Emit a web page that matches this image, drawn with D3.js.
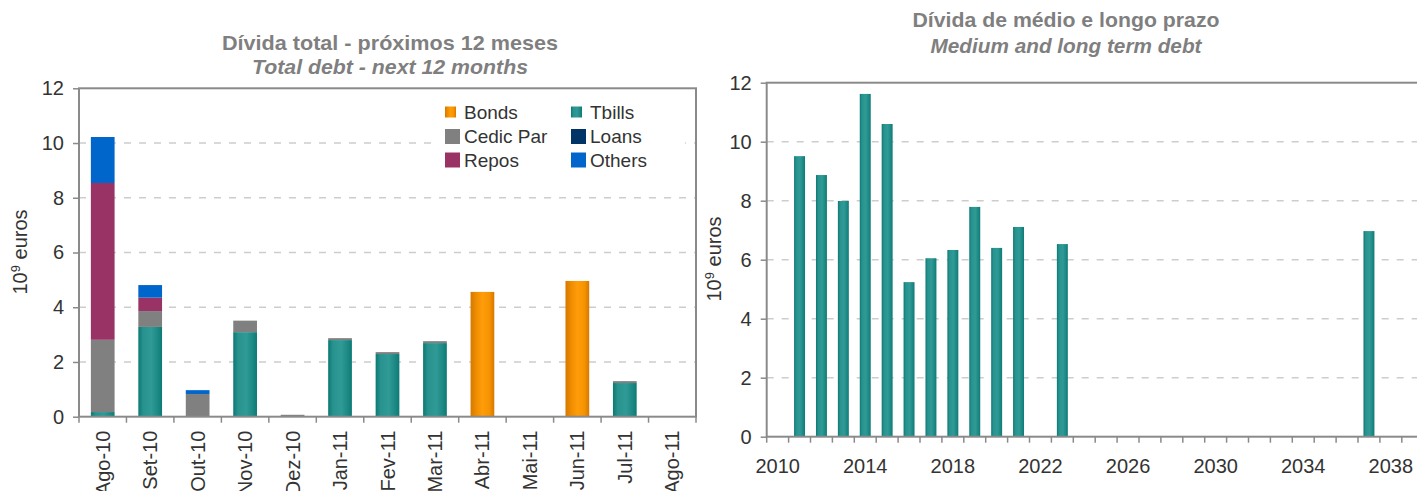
<!DOCTYPE html>
<html>
<head>
<meta charset="utf-8">
<script src="https://cdn.jsdelivr.net/npm/d3@7"></script>
<style>
  body { margin: 0; background: #fff; }
  svg { display: block; font-family: 'Liberation Sans', Arial, sans-serif; }
</style>
</head>
<body>
<div id="mount"></div>
<script>
'use strict';

// left chart: total debt falling due in the next 12 months (10^9 euros)
const months = ['Ago-10', 'Set-10', 'Out-10', 'Nov-10', 'Dez-10', 'Jan-11', 'Fev-11',
                'Mar-11', 'Abr-11', 'Mai-11', 'Jun-11', 'Jul-11', 'Ago-11'];
const bonds    = [0,    0,    0,    0,    0,    0,    0,    0,    4.56, 0, 4.96, 0,    0];
const tbills   = [0.17, 3.28, 0,    3.09, 0,    2.80, 2.29, 2.69, 0,    0, 0,    1.23, 0];
const cedicPar = [2.64, 0.58, 0.83, 0.42, 0.07, 0.07, 0.07, 0.07, 0,    0, 0,    0.07, 0];
const loans    = [0,    0,    0,    0,    0,    0,    0,    0,    0,    0, 0,    0,    0];
const repos    = [5.73, 0.49, 0,    0,    0,    0,    0,    0,    0,    0, 0,    0,    0];
const others   = [1.68, 0.46, 0.14, 0,    0,    0,    0,    0,    0,    0, 0,    0,    0];
const seriesNames = ['Bonds', 'Tbills', 'Cedic Par', 'Loans', 'Repos', 'Others'];

// right chart: medium and long term debt by year of maturity (10^9 euros)
const years = [2010, 2011, 2012, 2013, 2014, 2015, 2016, 2017, 2018, 2019,
               2020, 2021, 2022, 2023, 2024, 2025, 2026, 2027, 2028, 2029,
               2030, 2031, 2032, 2033, 2034, 2035, 2036, 2037, 2038, 2039];
const mltDebt = [0, 9.51, 8.87, 7.99, 11.62, 10.60, 5.24, 6.05, 6.33, 7.79,
                 6.40, 7.11, 0, 6.53, 0, 0, 0, 0, 0, 0,
                 0, 0, 0, 0, 0, 0, 0, 6.97, 0, 0];
const yearLabels = [2010, 2014, 2018, 2022, 2026, 2030, 2034, 2038];

const yTicks = [0, 2, 4, 6, 8, 10, 12];

const axisColor = '#8a8a8a',
      gridColor = '#cdcdcd',
      textColor = '#333',
      titleColor = '#7f7f7f',
      tickFont = '20px';

const svg = d3.select('#mount').append('svg')
    .attr('width', 1417)
    .attr('height', 491);

// cylinder-like shading used by Excel on the Tbills and Bonds bars
const defs = svg.append('defs');
function addGradient(id, stops) {
  const grad = defs.append('linearGradient')
      .attr('id', id)
      .attr('x1', 0).attr('x2', 1)
      .attr('y1', 0).attr('y2', 0);
  stops.forEach(s => grad.append('stop').attr('offset', s[0]).attr('stop-color', s[1]));
}
addGradient('grad-tbills', [[0, '#0b7873'], [0.2, '#28928e'], [0.55, '#2f9a96'], [0.82, '#1d8984'], [1, '#0c7a75']]);
addGradient('grad-bonds',  [[0, '#d67800'], [0.25, '#ef8e00'], [0.5, '#ff9c0a'], [0.8, '#f59300'], [1, '#d67800']]);

const fills = {
  'Bonds': 'url(#grad-bonds)',
  'Tbills': 'url(#grad-tbills)',
  'Cedic Par': '#808080',
  'Loans': '#003366',
  'Repos': '#993366',
  'Others': '#0066cc'
};

function drawTitle(cx, y1, y2, line1, line2, len1, len2) {
  svg.append('text')
      .attr('x', cx).attr('y', y1)
      .attr('text-anchor', 'middle')
      .attr('textLength', len1).attr('lengthAdjust', 'spacingAndGlyphs')
      .style('font-size', '21px').style('font-weight', 'bold')
      .style('fill', titleColor)
      .text(line1);
  svg.append('text')
      .attr('x', cx).attr('y', y2)
      .attr('text-anchor', 'middle')
      .attr('textLength', len2).attr('lengthAdjust', 'spacingAndGlyphs')
      .style('font-size', '21px').style('font-weight', 'bold').style('font-style', 'italic')
      .style('fill', titleColor)
      .text(line2);
}

function drawUnitLabel(cx, cy) {
  const t = svg.append('text')
      .attr('transform', `translate(${cx}, ${cy}) rotate(-90)`)
      .attr('text-anchor', 'middle')
      .attr('dy', '0.35em')
      .style('font-size', tickFont)
      .style('fill', textColor);
  t.append('tspan').text('10');
  t.append('tspan').attr('baseline-shift', 'super').style('font-size', '13px').text('9');
  t.append('tspan').text(' euros');
}

function drawGrid(g, y, w) {
  g.selectAll('.grid')
      .data(yTicks.filter(d => d > 0 && d < 12))
    .enter().append('line')
      .attr('x1', 0).attr('x2', w)
      .attr('y1', d => y(d)).attr('y2', d => y(d))
      .style('stroke', gridColor)
      .style('stroke-width', 1.5)
      .style('stroke-dasharray', '7,8');
}

function drawYAxis(g, y) {
  const ax = g.append('g')
      .call(d3.axisLeft(y).tickValues(yTicks).tickSize(6).tickPadding(9));
  ax.select('.domain').remove();
  ax.selectAll('line').style('stroke', axisColor).style('stroke-width', 1.5);
  ax.selectAll('text')
      .style('font-size', tickFont)
      .style('font-family', "'Liberation Sans', Arial, sans-serif")
      .style('fill', textColor);
}

function drawBoundaryTicks(g, x, n, h) {
  g.selectAll('.xtick')
      .data(d3.range(n + 1))
    .enter().append('line')
      .attr('x1', i => x.range()[0] + i * x.step())
      .attr('x2', i => x.range()[0] + i * x.step())
      .attr('y1', h).attr('y2', h + 6)
      .style('stroke', axisColor)
      .style('stroke-width', 1.5);
}

function drawFrame(g, w, h) {
  g.append('rect')
      .attr('width', w).attr('height', h)
      .style('fill', 'none')
      .style('stroke', axisColor)
      .style('stroke-width', 2);
}

/* ---------------- left chart ---------------- */
const L = { left: 79, top: 88.3, width: 617, height: 328.4 };
const gL = svg.append('g').attr('transform', `translate(${L.left}, ${L.top})`);

const xL = d3.scaleBand().domain(months).range([0, L.width]).paddingInner(0.5).paddingOuter(0.25);
const yL = d3.scaleLinear().domain([0, 12]).range([L.height, 0]);

const table = months.map((m, i) => ({
  month: m,
  'Bonds': bonds[i],
  'Tbills': tbills[i],
  'Cedic Par': cedicPar[i],
  'Loans': loans[i],
  'Repos': repos[i],
  'Others': others[i]
}));
const stacked = d3.stack().keys(seriesNames)(table);

drawGrid(gL, yL, L.width);

gL.selectAll('.layer')
    .data(stacked)
  .enter().append('g')
    .style('fill', d => fills[d.key])
  .selectAll('rect')
    .data(d => d.filter(p => p[1] - p[0] > 0))
  .enter().append('rect')
    .attr('x', d => xL(d.data.month))
    .attr('width', xL.bandwidth())
    .attr('y', d => yL(d[1]))
    .attr('height', d => yL(d[0]) - yL(d[1]));

// legend, two columns on a white box that hides the grid
const legend = gL.append('g');
legend.append('rect')
    .attr('x', 433 - L.left).attr('y', 94 - L.top)
    .attr('width', 252).attr('height', 82)
    .style('fill', '#fff');
const legendCols = [445, 571],
      legendRows = [112, 136.5, 160];
seriesNames.forEach((name, i) => {
  const cx = legendCols[i % 2] - L.left,
        cy = legendRows[Math.floor(i / 2)] - L.top,
        s = i < 2 ? 11 : 15;
  legend.append('rect')
      .attr('x', cx).attr('y', cy - s / 2)
      .attr('width', s).attr('height', s)
      .style('fill', fills[name]);
  legend.append('text')
      .attr('x', cx + 19).attr('y', cy)
      .attr('dy', '0.35em')
      .style('font-size', '19px')
      .style('fill', textColor)
      .text(name);
});

drawFrame(gL, L.width, L.height);
drawYAxis(gL, yL);
drawBoundaryTicks(gL, xL, months.length, L.height);

gL.selectAll('.xlab')
    .data(months)
  .enter().append('text')
    .attr('transform', d => `translate(${xL(d) + xL.bandwidth() / 2}, ${L.height + 14}) rotate(-90)`)
    .attr('dy', '0.35em')
    .attr('text-anchor', 'end')
    .style('font-size', tickFont)
    .style('fill', textColor)
    .text(d => d);

drawTitle(390, 50, 74, 'Dívida total - próximos 12 meses', 'Total debt - next 12 months', 336, 276);
drawUnitLabel(20, 252);

/* ---------------- right chart ---------------- */
const R = { left: 766.7, top: 82.7, width: 657, height: 354 };
const gR = svg.append('g').attr('transform', `translate(${R.left}, ${R.top})`);

const xR = d3.scaleBand().domain(years).range([0, R.width]).paddingInner(0.5).paddingOuter(0.25);
const yR = d3.scaleLinear().domain([0, 12]).range([R.height, 0]);

drawGrid(gR, yR, R.width);

gR.selectAll('.bar')
    .data(years.map((yr, i) => ({ year: yr, value: mltDebt[i] })).filter(d => d.value > 0))
  .enter().append('rect')
    .attr('x', d => xR(d.year))
    .attr('width', xR.bandwidth())
    .attr('y', d => yR(d.value))
    .attr('height', d => yR(0) - yR(d.value))
    .style('fill', 'url(#grad-tbills)');

drawFrame(gR, R.width, R.height);
drawYAxis(gR, yR);
drawBoundaryTicks(gR, xR, years.length, R.height);

const axR = gR.append('g')
    .attr('transform', `translate(0, ${R.height})`)
    .call(d3.axisBottom(xR).tickValues(yearLabels).tickSize(0).tickPadding(22));
axR.select('.domain').remove();
axR.selectAll('text')
    .style('font-size', tickFont)
    .style('font-family', "'Liberation Sans', Arial, sans-serif")
    .style('fill', textColor);

drawTitle(1066, 27, 53, 'Dívida de médio e longo prazo', 'Medium and long term debt', 307, 271);
drawUnitLabel(714, 259);
</script>
</body>
</html>
